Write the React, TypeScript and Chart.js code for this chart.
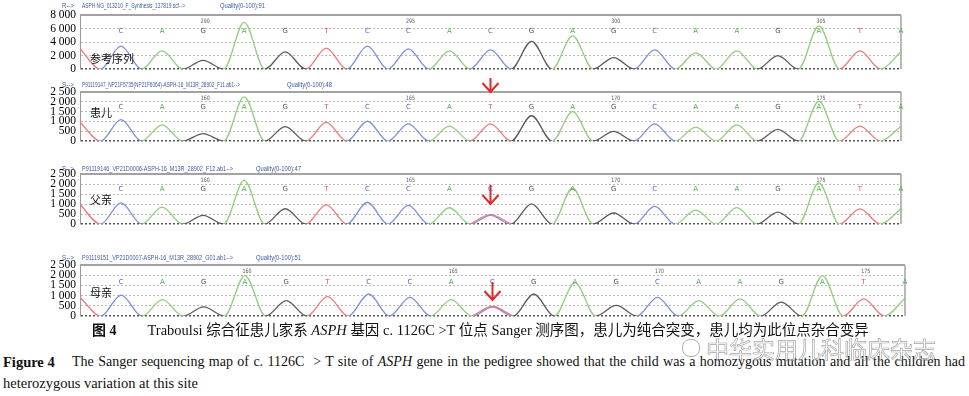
import React, { useEffect, useRef } from 'react';
import { Chart, registerables } from 'chart.js';

Chart.register(...registerables);

// ---------- data ----------
const refStart = 287;
const refBases = ['T', 'C', 'A', 'G', 'A', 'G', 'T', 'C', 'C', 'A', 'C', 'G', 'A', 'G', 'C', 'A', 'A', 'G', 'A', 'T', 'A'];
const refHeights = [3000, 3400, 2700, 1300, 6900, 2550, 3100, 3400, 3000, 2700, 2850, 4100, 4900, 1700, 2850, 2400, 2700, 2000, 6400, 2700, 2550];
const refNumbers = [290, 295, 300, 305];
const refYTicks = [0, 2000, 4000, 6000, 8000];

const childStart = 157;
const childBases = ['T', 'C', 'A', 'G', 'A', 'G', 'T', 'C', 'C', 'A', 'T', 'G', 'A', 'G', 'C', 'A', 'A', 'G', 'A', 'T', 'A'];
const childHeights = [960, 1090, 830, 380, 2250, 740, 950, 1010, 880, 760, 880, 1290, 1500, 495, 880, 710, 830, 595, 2030, 760, 760];
const childNumbers = [160, 165, 170, 175];
const childMut = 167;

const fatherStart = 157;
const fatherBases = ['T', 'C', 'A', 'G', 'A', 'G', 'T', 'C', 'C', 'A', 'C', 'G', 'A', 'G', 'C', 'A', 'A', 'G', 'A', 'T', 'A'];
const fatherHeights = [975, 1060, 850, 440, 2180, 765, 960, 1090, 930, 815, 440, 1010, 1790, 555, 880, 700, 820, 600, 2050, 760, 760];
const fatherHetHeight = 470;
const fatherNumbers = [160, 165, 170, 175];
const fatherMut = 167;

const motherStart = 156;
const motherBases = ['T', 'C', 'A', 'G', 'A', 'G', 'T', 'C', 'C', 'A', 'C', 'G', 'A', 'G', 'C', 'A', 'A', 'G', 'A', 'T', 'A'];
const motherHeights = [920, 1030, 810, 450, 1985, 760, 950, 1080, 920, 810, 440, 1080, 1640, 520, 920, 760, 840, 685, 1985, 840, 875];
const motherHetHeight = 470;
const motherNumbers = [160, 165, 170, 175];
const motherMut = 166;

const parentYTicks = [0, 500, 1000, 1500, 2000, 2500];

// ---------- styles ----------
const TRACE: Record<string, string> = { A: '#8fcf7f', C: '#7a8ee0', G: '#5a5a5a', T: '#f07a7a' };
const LABEL: Record<string, string> = { A: '#4fae4f', C: '#5068cc', G: '#555555', T: '#e85050' };

type Panel = {
  start: number; bases: string[]; heights: number[]; numbers: number[]; yTicks: number[];
  mut: number | null; het: number | null; prefix: string; file: string; quality: string; sample: string;
};

const PANELS: Panel[] = [
  { start: refStart, bases: refBases, heights: refHeights, numbers: refNumbers, yTicks: refYTicks, mut: null, het: null,
    prefix: 'R-->', file: 'ASPH NG_013210_F_Synthesis_137819.scf-->', quality: 'Quality(0-100):91', sample: '参考序列' },
  { start: childStart, bases: childBases, heights: childHeights, numbers: childNumbers, yTicks: parentYTicks, mut: childMut, het: null,
    prefix: 'S-->', file: 'P91119147_NP21F5735(NP21F6064)-ASPH-16_M13R_28902_F11.ab1-->', quality: 'Quality(0-100):48', sample: '患儿' },
  { start: fatherStart, bases: fatherBases, heights: fatherHeights, numbers: fatherNumbers, yTicks: parentYTicks, mut: fatherMut, het: fatherHetHeight,
    prefix: 'S-->', file: 'P91119146_VP21D0006-ASPH-16_M13R_28902_F12.ab1-->', quality: 'Quality(0-100):47', sample: '父亲' },
  { start: motherStart, bases: motherBases, heights: motherHeights, numbers: motherNumbers, yTicks: parentYTicks, mut: motherMut, het: motherHetHeight,
    prefix: 'S-->', file: 'P91119151_VP21D0007-ASPH-16_M13R_28902_G01.ab1-->', quality: 'Quality(0-100):51', sample: '母亲' },
];

type Layout = {
  top: number; padTop: number; plotH: number; padBottom: number; padRight: number;
  headerDy: number; fileW: number; qualityDx: number; baseDy: number; sampleDy: number;
  arrow: { from: number; to: number } | null;
};

const LAYOUT: Layout[] = [
  { top: 0, padTop: 15, plotH: 56, padBottom: 9, padRight: 68, headerDy: -9, fileW: 103, qualityDx: 140, baseDy: 16, sampleDy: 44, arrow: null },
  { top: 77, padTop: 15, plotH: 51, padBottom: 9, padRight: 68, headerDy: -7, fileW: 158, qualityDx: 207, baseDy: 15, sampleDy: 21, arrow: { from: -14, to: 0 } },
  { top: 160, padTop: 14, plotH: 52, padBottom: 9, padRight: 68, headerDy: -5, fileW: 151, qualityDx: 176, baseDy: 15, sampleDy: 26, arrow: { from: 11, to: 30 } },
  { top: 250, padTop: 15, plotH: 53, padBottom: 9, padRight: 64, headerDy: -7, fileW: 151, qualityDx: 176, baseDy: 17, sampleDy: 28, arrow: { from: 17, to: 35 } },
];

function traceData(start: number, heights: number[]) {
  const pts: { x: number; y: number }[] = [];
  heights.forEach((h, i) => {
    if (i > 0) pts.push({ x: start + i - 0.5, y: 0 });
    pts.push({ x: start + i, y: h });
  });
  return pts;
}

const fmt = (v: number | string) => String(v).replace(/\B(?=(\d{3})+(?!\d))/g, ' ');

function annotPlugin(p: Panel, l: Layout) {
  return {
    id: 'annot',
    afterDatasetsDraw(chart: any) {
      const { ctx, chartArea: a } = chart;
      const xs = chart.scales.x;
      ctx.save();
      ctx.setLineDash([]);
      // frame
      ctx.strokeStyle = '#a2a2a2';
      ctx.lineWidth = 2;
      ctx.beginPath(); ctx.moveTo(a.left, a.top); ctx.lineTo(a.right, a.top); ctx.stroke();
      ctx.lineWidth = 1.5;
      ctx.beginPath(); ctx.moveTo(a.right, a.top); ctx.lineTo(a.right, a.bottom); ctx.stroke();
      // header
      ctx.font = '7px "Liberation Sans Narrow", "Liberation Sans"';
      ctx.fillStyle = '#3b5ba5';
      ctx.textBaseline = 'middle';
      ctx.textAlign = 'left';
      const hy = a.top + l.headerDy;
      ctx.fillText(p.prefix, a.left - 18, hy, 12);
      ctx.fillText(p.file, a.left + 2, hy, l.fileW);
      ctx.fillText(p.quality, a.left + l.qualityDx, hy, 45);
      // position numbers
      ctx.font = '6px "DejaVu Sans"';
      ctx.fillStyle = '#555';
      ctx.textAlign = 'center';
      p.numbers.forEach((n) => ctx.fillText(String(n), xs.getPixelForValue(n) + 2, a.top + 6, 9));
      // base calls
      ctx.font = '7px "DejaVu Sans"';
      p.bases.forEach((b, i) => {
        if (i === 0) return;
        ctx.fillStyle = LABEL[b];
        ctx.fillText(b, xs.getPixelForValue(p.start + i), a.top + l.baseDy);
      });
      // sample label
      ctx.font = '11px "Noto Sans CJK SC"';
      ctx.fillStyle = '#111';
      ctx.textAlign = 'left';
      ctx.fillText(p.sample, a.left + 10, a.top + l.sampleDy);
      // arrow
      if (p.mut != null && l.arrow) {
        const x = xs.getPixelForValue(p.mut);
        const y1 = a.top + l.arrow.from;
        const y2 = a.top + l.arrow.to;
        ctx.strokeStyle = '#e8262b';
        ctx.lineWidth = 2;
        ctx.beginPath();
        ctx.moveTo(x, y1); ctx.lineTo(x, y2);
        ctx.moveTo(x - 8, y2 - 9); ctx.lineTo(x, y2); ctx.lineTo(x + 8, y2 - 9);
        ctx.stroke();
      }
      ctx.restore();
    },
  };
}

function makeConfig(p: Panel, l: Layout): any {
  const datasets: any[] = [];
  if (p.het != null && p.mut != null) {
    datasets.push({
      data: [{ x: p.mut - 0.5, y: 0 }, { x: p.mut, y: p.het }, { x: p.mut + 0.5, y: 0 }],
      borderColor: TRACE.T,
    });
  }
  datasets.push({
    data: traceData(p.start, p.heights),
    borderColor: TRACE[p.bases[0]],
    segment: { borderColor: (c: any) => TRACE[p.bases[Math.ceil(c.p0DataIndex / 2)]] },
  });
  const yMax = p.yTicks[p.yTicks.length - 1];
  return {
    type: 'line',
    data: { datasets },
    options: {
      responsive: false,
      animation: false,
      devicePixelRatio: 1,
      layout: { padding: { top: l.padTop, bottom: l.padBottom, left: 0, right: l.padRight } },
      plugins: { legend: { display: false }, tooltip: { enabled: false } },
      elements: { point: { radius: 0 }, line: { borderWidth: 1.3, cubicInterpolationMode: 'monotone' } },
      scales: {
        x: { type: 'linear', min: p.start, max: p.start + p.heights.length - 1, display: false },
        y: {
          min: 0,
          max: yMax,
          afterBuildTicks: (s: any) => { s.ticks = p.yTicks.map((v) => ({ value: v })); },
          afterFit: (s: any) => { s.width = 80; },
          grid: {
            drawTicks: false,
            color: (c: any) => (c.tick.value === 0 ? '#555' : c.tick.value === yMax ? 'rgba(0,0,0,0)' : '#c2b6b6'),
            lineWidth: (c: any) => (c.tick.value === 0 ? 1.5 : 1),
          },
          border: { display: true, color: '#9a9a9a', width: 1, dash: [2, 2] },
          ticks: { autoSkip: false, padding: 4, color: '#000', font: { family: 'Liberation Serif', size: 11.5 }, callback: (v: any) => fmt(v) },
        },
      },
    },
    plugins: [annotPlugin(p, l)],
  };
}

export default function App() {
  const refs = useRef<(HTMLCanvasElement | null)[]>([]);
  useEffect(() => {
    const charts = PANELS.map((p, i) => new Chart(refs.current[i] as HTMLCanvasElement, makeConfig(p, LAYOUT[i])));
    return () => charts.forEach((c) => c.destroy());
  }, []);

  const serif = '"Liberation Serif", "Noto Sans CJK SC", serif';
  return (
    <div style={{ position: 'fixed', left: 0, top: 0, width: 969, height: 396, background: '#fff', overflow: 'hidden', fontFamily: serif, color: '#111' }}>
      {LAYOUT.map((l, i) => {
        const h = l.padTop + l.plotH + l.padBottom;
        return (
          <canvas
            key={i}
            ref={(el) => { refs.current[i] = el; }}
            width={969}
            height={h}
            style={{ position: 'absolute', left: 0, top: l.top, width: 969, height: h }}
          />
        );
      })}
      <div style={{ position: 'absolute', left: 92, top: 321, lineHeight: '18px', fontSize: 14, whiteSpace: 'nowrap' }}>
        <b>图 4</b>
        <span style={{ marginLeft: 31, fontSize: 14.5 }}>Traboulsi 综合征患儿家系 <i>ASPH</i> 基因 c. 1126C &gt;T 位点 Sanger 测序图，患儿为纯合突变，患儿均为此位点杂合变异</span>
      </div>
      <div style={{ position: 'absolute', left: 3, top: 353, lineHeight: '18px', fontSize: 14.5, whiteSpace: 'nowrap' }}>
        <b>Figure 4</b>
      </div>
      <div style={{ position: 'absolute', left: 72, top: 353, width: 893, lineHeight: '18px', fontSize: 14, textAlign: 'justify', textAlignLast: 'justify' as any, whiteSpace: 'nowrap' }}>
        The Sanger sequencing map of c. 1126C &nbsp;&gt; T site of <i>ASPH</i> gene in the pedigree showed that the child was a homozygous mutation and all the children had
      </div>
      <div style={{ position: 'absolute', left: 3, top: 374, lineHeight: '18px', fontSize: 14.5, whiteSpace: 'nowrap' }}>
        heterozygous variation at this site
      </div>
      <div style={{ position: 'absolute', left: 682, top: 334, display: 'flex', alignItems: 'center', pointerEvents: 'none' }}>
        <div style={{ width: 16, height: 16, borderRadius: 8, border: '1.5px solid rgba(110,110,110,0.55)', marginRight: 6 }} />
        <span style={{ fontFamily: '"Noto Sans CJK SC"', fontSize: 23, color: 'rgba(255,255,255,0.55)', WebkitTextStroke: '0.7px rgba(90,90,90,0.55)', lineHeight: '28px' }}>中华实用儿科临床杂志</span>
      </div>
    </div>
  );
}
